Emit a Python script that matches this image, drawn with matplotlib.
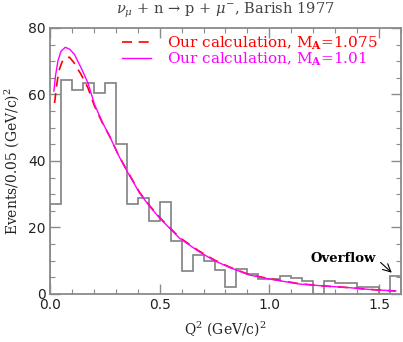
import numpy as np
import matplotlib
matplotlib.use("Agg")
import matplotlib.pyplot as plt
from matplotlib.ticker import MultipleLocator

plt.rcParams['mathtext.fontset'] = 'dejavuserif'

# Histogram (Barish 1977 data), bins of 0.05 (GeV/c)^2, last bin = overflow
bin_edges = np.linspace(0.0, 1.6, 33)
counts = [27.0, 64.5, 61.4, 63.4, 60.4, 63.4, 45.0, 27.2, 29.0, 22.0, 27.8,
          15.9, 6.9, 11.7, 9.9, 7.2, 2.1, 7.5, 5.9, 4.6, 4.6, 5.5, 4.7, 3.9,
          0.0, 3.9, 3.2, 3.2, 2.0, 2.0, 0.0, 5.5]

# Calculation, M_A = 1.01 (solid magenta)
q2_b = [0.018, 0.025, 0.036, 0.05, 0.07, 0.09, 0.112, 0.142, 0.173, 0.203,
        0.24, 0.273, 0.31, 0.348, 0.409, 0.455, 0.5, 0.545, 0.59, 0.68, 0.75,
        0.818, 0.909, 1.0, 1.136, 1.25, 1.364, 1.45, 1.576]
ev_b = [61.0, 65.5, 70.0, 73.0, 74.2, 73.6, 72.0, 68.0, 63.5, 57.0,
        51.5, 47.3, 42.0, 37.3, 30.3, 26.3, 22.8, 19.8, 16.8, 12.7, 10.0,
        8.0, 5.7, 4.5, 3.0, 2.4, 1.9, 1.4, 0.9]

# Calculation, M_A = 1.075 (dashed red)
q2_a = [0.021, 0.03, 0.04, 0.055, 0.07, 0.089, 0.11, 0.142, 0.173, 0.203,
        0.24, 0.273, 0.31, 0.348, 0.409, 0.455, 0.5, 0.545, 0.59, 0.68, 0.75,
        0.818, 0.909, 1.0, 1.136, 1.25, 1.364, 1.45, 1.576]
ev_a = [57.4, 62.5, 67.0, 69.8, 71.0, 71.2, 69.5, 66.0, 62.0, 56.5,
        51.3, 47.3, 42.1, 37.5, 30.5, 26.5, 23.0, 20.0, 17.0, 12.9, 10.2,
        8.1, 5.8, 4.6, 3.1, 2.4, 1.9, 1.4, 0.9]

fig = plt.figure(figsize=(4.03, 3.42), dpi=100)
ax = fig.add_axes([0.124, 0.1404, 0.871, 0.7778])

grey = '#8a8a8a'
ax.stairs(counts, bin_edges, baseline=0, color='#808080', lw=1.2)
ax.plot(q2_a, ev_a, color='#ff0000', lw=1.2, dashes=(6, 4),
        label=r'Our calculation, M$_\mathbf{A}$=1.075')
ax.plot(q2_b, ev_b, color='#ff00ff', lw=1.0,
        label=r'Our calculation, M$_\mathbf{A}$=1.01')

ax.set_xlim(0, 1.6)
ax.set_ylim(0, 80)
ax.xaxis.set_major_locator(MultipleLocator(0.5))
ax.xaxis.set_minor_locator(MultipleLocator(0.1))
ax.yaxis.set_major_locator(MultipleLocator(20))
ax.yaxis.set_minor_locator(MultipleLocator(5))
ax.set_xticks([0.0, 0.5, 1.0, 1.5])
ax.set_xticklabels(['0.0', '0.5', '1.0', '1.5'])
ax.tick_params(which='both', direction='in', top=True, right=True,
               color=grey, labelsize=10, labelcolor='#222222', pad=3)
ax.tick_params(which='major', length=7, width=1.0)
ax.tick_params(which='minor', length=3.5, width=0.8)
for s in ax.spines.values():
    s.set_color(grey)
    s.set_linewidth(1.3)

serif = 'DejaVu Serif'
ax.set_xlabel(r'Q$^2$ (GeV/c)$^2$', family=serif, fontsize=10, labelpad=5,
              color='#222222')
ax.set_ylabel(r'Events/0.05 (GeV/c)$^2$', family=serif, fontsize=10,
              labelpad=5, color='#222222')
ax.set_title(r'$\nu_\mu$ + n → p + $\mu^{-}$, Barish 1977', family=serif,
             fontsize=10.5, color='#444444', pad=10)

leg = ax.legend(loc='upper right', frameon=False, handlelength=1.9,
                handletextpad=1.1, borderaxespad=0.0, borderpad=0.0,
                labelspacing=-0.1,
                prop={'family': serif, 'size': 11},
                bbox_to_anchor=(0.935, 0.975))
for txt, c in zip(leg.get_texts(), ['#ff0000', '#ff00ff']):
    txt.set_color(c)

ax.annotate('Overflow', xy=(1.558, 6.4), xytext=(1.336, 10.8),
            ha='center', va='center', family=serif, weight='bold', fontsize=9.5,
            arrowprops=dict(arrowstyle='->', color='black', lw=0.8,
                            relpos=(1.0, 0.5),
                            shrinkA=2, shrinkB=0, mutation_scale=14))

fig.savefig('out.png', dpi=100)
